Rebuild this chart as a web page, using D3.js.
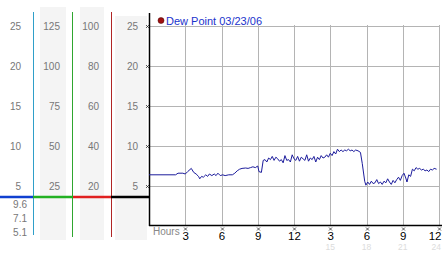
<!DOCTYPE html>
<html>
<head>
<meta charset="utf-8">
<script src="https://cdn.jsdelivr.net/npm/d3@7"></script>
<style>
  body { margin: 0; background: #fff; }
  svg text { font-family: "Liberation Sans", Arial, sans-serif; }
</style>
</head>
<body>
<div id="chart"></div>
<script>
var svgWidth = 442;
var svgHeight = 253;

// hours since midnight and dew point readings
var hours = [0, 2.2, 2.4, 2.8, 3.0, 3.2, 3.5, 3.7, 3.9, 4.1, 4.2, 4.35, 4.5, 4.7, 4.85, 5.0, 5.2, 5.4, 5.55, 5.7, 5.9, 6.1, 6.3, 6.6, 6.9,
  7.1, 7.3, 7.5, 7.7, 8.0, 8.2, 8.4, 8.6, 8.8, 9.0, 9.1, 9.3, 9.45, 9.6, 9.75, 9.9, 10.05, 10.2, 10.35, 10.5, 10.65, 10.8, 10.95,
  11.1, 11.25, 11.4, 11.55, 11.7, 11.85, 12.0, 12.15, 12.3, 12.45, 12.6, 12.75, 12.9, 13.05, 13.2, 13.35, 13.5, 13.65, 13.8, 13.95,
  14.1, 14.25, 14.4, 14.55, 14.7, 14.85, 15.0, 15.15, 15.3, 15.45, 15.6, 15.75, 15.9, 16.05, 16.2, 16.35, 16.5, 16.65, 16.8, 16.95,
  17.1, 17.3, 17.5, 17.65, 17.85, 17.95, 18.1, 18.25, 18.4, 18.55, 18.7, 18.85, 19.0, 19.15, 19.3, 19.45, 19.6, 19.75, 19.9, 20.05,
  20.2, 20.35, 20.5, 20.65, 20.8, 20.95, 21.1, 21.25, 21.35, 21.5, 21.65, 21.8, 21.95, 22.1, 22.25, 22.4, 22.55, 22.7, 22.85, 23.0,
  23.15, 23.3, 23.45, 23.6, 23.8];
var dewPoint = [6.4, 6.4, 6.6, 6.6, 6.5, 6.8, 7.2, 6.7, 6.5, 6.2, 5.9, 6.2, 6.1, 6.4, 6.2, 6.5, 6.3, 6.5, 6.3, 6.6, 6.3, 6.4, 6.3, 6.4, 6.4,
  6.6, 6.9, 7.1, 7.2, 7.25, 7.2, 7.3, 7.4, 7.3, 7.5, 6.8, 6.7, 8.2, 8.3, 8.0, 8.5, 8.3, 8.7, 8.2, 8.6, 8.4, 8.1, 8.3,
  7.9, 8.8, 8.2, 8.3, 8.0, 8.9, 8.4, 8.2, 8.7, 8.1, 8.6, 8.4, 8.2, 8.9, 8.1, 8.5, 8.3, 8.7, 8.0, 8.6,
  8.3, 8.8, 8.5, 8.6, 8.9, 8.6, 9.1, 8.8, 9.3, 9.0, 9.6, 9.3, 9.5, 9.3, 9.5, 9.4, 9.6, 9.4, 9.5, 9.3,
  9.5, 9.4, 9.2, 7.8, 5.6, 5.1, 5.5, 5.2, 5.6, 5.3, 5.4, 5.8, 5.3, 5.5, 5.2, 5.6, 5.4, 5.9, 5.5, 5.2,
  5.7, 5.4, 5.8, 6.1, 5.7, 6.3, 6.6, 6.0, 5.5, 6.4, 6.2, 7.1, 6.9, 7.3, 7.1, 7.2, 7.0, 7.1, 6.9, 7.0,
  6.8, 7.1, 7.0, 7.2, 7.1];

var yTicks = [5, 10, 15, 20, 25];
var xTicks = [3, 6, 9, 12, 15, 18, 21, 24];
var dayTicks = [15, 18, 21, 24];
// unit columns on the left (same grid levels)
var col1 = ["5", "10", "15", "20", "25"];
var col2 = ["25", "50", "75", "100", "125"];
var col3 = ["20", "40", "60", "80", "100"];
var col4 = ["5", "10", "15", "20", "25"];
var lowLabels = ["9.6", "7.1", "5.1"];
var legendLabel = "Dew Point 03/23/06";

var svg = d3.select("#chart").append("svg")
  .attr("width", svgWidth)
  .attr("height", svgHeight);

var x = d3.scaleLinear().domain([0, 24]).range([149, 439]);
var y = d3.scaleLinear().domain([0, 25]).range([226, 26]);

// grey panels behind the unit columns
[[40, 7, 26], [80, 7, 24], [115, 16, 32]].forEach(function(p) {
  svg.append("rect").attr("x", p[0]).attr("y", p[1]).attr("width", p[2]).attr("height", 240 - p[1])
    .attr("fill", "#f4f4f4");
});

// coloured unit lines
[[33.5, "#2f9fc9", 235], [72.5, "#2fa62f", 237], [111.5, "#b02525", 237]].forEach(function(l) {
  svg.append("line").attr("x1", l[0]).attr("x2", l[0]).attr("y1", 12).attr("y2", l[2])
    .attr("stroke", l[1]).attr("stroke-width", 1);
});

// thick reference line
[[0, 33, "#1040d0"], [33, 73, "#22b022"], [73, 111, "#e02020"], [111, 149, "#000"]].forEach(function(s) {
  svg.append("line").attr("x1", s[0]).attr("x2", s[1]).attr("y1", 197).attr("y2", 197)
    .attr("stroke", s[2]).attr("stroke-width", 2.5);
});

// column labels
function colText(vals, xr) {
  svg.append("g").selectAll("text").data(vals).enter().append("text")
    .attr("x", xr)
    .attr("y", (d, i) => y(yTicks[i]) + 3.5)
    .attr("text-anchor", "end")
    .attr("font-size", "10px")
    .attr("fill", "#777")
    .text(d => d);
}
colText(col1, 21);
colText(col2, 60);
colText(col3, 99);
colText(col4, 138);

svg.append("g").selectAll("text").data(lowLabels).enter().append("text")
  .attr("x", 27)
  .attr("y", (d, i) => 207.5 + i * 14)
  .attr("text-anchor", "end")
  .attr("font-size", "10px")
  .attr("fill", "#777")
  .text(d => d);

// grid
svg.append("g").selectAll("line").data(yTicks).enter().append("line")
  .attr("x1", x(0)).attr("x2", x(24) + 1)
  .attr("y1", d => Math.round(y(d)) + 0.5).attr("y2", d => Math.round(y(d)) + 0.5)
  .attr("stroke", "#b4b4b4");
svg.append("g").selectAll("line").data(xTicks).enter().append("line")
  .attr("x1", d => Math.round(x(d)) + 0.5).attr("x2", d => Math.round(x(d)) + 0.5)
  .attr("y1", 25).attr("y2", 225)
  .attr("stroke", "#b4b4b4");

// axes lines
svg.append("line").attr("x1", 149.5).attr("x2", 149.5).attr("y1", 13).attr("y2", 226)
  .attr("stroke", "#000").attr("stroke-width", 1.5);
svg.append("line").attr("x1", 149).attr("x2", 442).attr("y1", 225.5).attr("y2", 225.5)
  .attr("stroke", "#000").attr("stroke-width", 1.5);

// small tick marks
var cross = "M-1.5,-1.5L1.5,1.5M1.5,-1.5L-1.5,1.5";
svg.append("g").selectAll("path").data(yTicks).enter().append("path")
  .attr("transform", d => `translate(147.5,${Math.round(y(d)) + 0.5})`)
  .attr("d", cross).attr("stroke", "#333").attr("stroke-width", 0.8);
svg.append("g").selectAll("path").data(xTicks).enter().append("path")
  .attr("transform", d => `translate(${Math.round(x(d)) + 0.5},229)`)
  .attr("d", cross).attr("stroke", "#333").attr("stroke-width", 0.8);

// hour labels
var bottomAxis = d3.axisBottom(x)
  .tickValues(xTicks)
  .tickSize(0)
  .tickPadding(0)
  .tickFormat(d => (d % 12 === 0 ? 12 : d % 12));
var xAxis = svg.append("g").attr("transform", "translate(0,232)").call(bottomAxis);
xAxis.select(".domain").remove();
xAxis.selectAll("text")
  .attr("dy", "0.71em")
  .attr("font-family", "Liberation Sans, Arial, sans-serif")
  .attr("font-size", "11.5px")
  .attr("fill", "#000")
  .attr("text-anchor", d => (d === 24 ? "end" : "middle"))
  .attr("x", d => (d === 24 ? 441 - x(24) : 0));

svg.append("g").selectAll("text").data(dayTicks).enter().append("text")
  .attr("x", d => (d === 24 ? 441 : x(d)))
  .attr("y", 250)
  .attr("text-anchor", d => (d === 24 ? "end" : "middle"))
  .attr("font-size", "8.5px")
  .attr("fill", "#dcdcdc")
  .text(d => d);

svg.append("text").attr("x", 153).attr("y", 235)
  .attr("font-size", "10px").attr("fill", "#888").text("Hours");

// dew point line
var pts = hours.map((h, i) => [h, dewPoint[i]]);
svg.append("path")
  .datum(pts)
  .attr("fill", "none")
  .attr("stroke", "#1c1c9c")
  .attr("stroke-width", 1)
  .attr("d", d3.line().x(d => x(d[0])).y(d => y(d[1])));

// legend
svg.append("circle").attr("cx", 161).attr("cy", 20.5).attr("r", 3)
  .attr("fill", "#a01010").attr("stroke", "#400").attr("stroke-width", 0.5);
svg.append("text").attr("x", 166).attr("y", 24.5)
  .attr("font-size", "11px").attr("fill", "#1a33cc").text(legendLabel);
</script>
</body>
</html>
